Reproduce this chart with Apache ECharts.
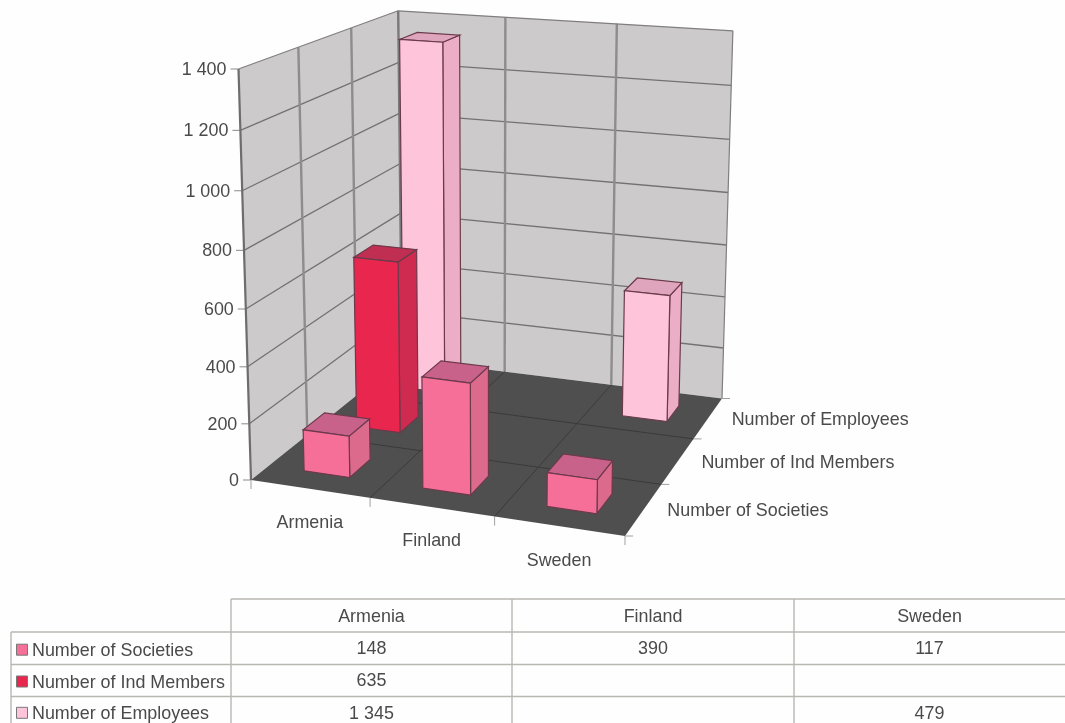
<!DOCTYPE html>
<html><head><meta charset="utf-8">
<style>html,body{margin:0;padding:0;background:#fff}#c{width:1065px;height:723px;filter:blur(0.5px)}</style>
<script src="https://cdn.jsdelivr.net/npm/echarts@6/dist/echarts.min.js"></script></head>
<body><div id="c"></div>
<script>
var categories = ['Armenia','Finland','Sweden'];
var seriesNames = ['Number of Societies','Number of Ind Members','Number of Employees'];
var societies = [148,390,117];
var indMembers = [635,null,null];
var employees = [1345,null,479];
var tableText = [['148','390','117'],['635','',''],['1 345','','479']];
var yTicks = [0,200,400,600,800,1000,1200,1400];
var yTickLabels = ['0','200','400','600','800','1 000','1 200','1 400'];
var yMax = 1400;

var font = 'Liberation Sans, Arial, sans-serif', fs = 17.9, txt = '#4a4a4a';
// perspective frame of the 3D box (screen anchors of its corners)
var O = [251,480], FR = [625,536], BR = [722,398.5], BL = [402,359], FT = [238.5,69], gam = -0.05;
var sx = O[0]-FR[0]+BR[0]-BL[0], sy = O[1]-FR[1]+BR[1]-BL[1];
var dx1 = FR[0]-BR[0], dx2 = BL[0]-BR[0], dy1 = FR[1]-BR[1], dy2 = BL[1]-BR[1];
var det = dx1*dy2-dx2*dy1;
var alp = (sx*dy2-dx2*sy)/det, bet = (dx1*sy-sx*dy1)/det;
function vec(P,k){return [P[0]*(1+k)-O[0],P[1]*(1+k)-O[1]];}
var A = vec(FR,alp), B = vec(BL,bet), C = vec(FT,gam);
function proj(u,d,t){var w=1+alp*u+bet*d+gam*t;
  return [(O[0]+A[0]*u+B[0]*d+C[0]*t)/w,(O[1]+A[1]*u+B[1]*d+C[1]*t)/w];}
function poly(pts,fill,stroke,lw){return {type:'polygon',shape:{points:pts},style:{fill:fill,stroke:stroke||null,lineWidth:lw||0}};}
function line(a,b,c,lw){return {type:'line',shape:{x1:a[0],y1:a[1],x2:b[0],y2:b[1]},style:{stroke:c,lineWidth:lw}};}
function text(s,x,y,align,vert){return {type:'text',style:{text:s,x:x,y:y,fill:txt,font:fs+'px '+font,align:align||'left',verticalAlign:vert||'middle'}};}

function frameItem(params,api){
  var cs=params.coordSys, kids=[], wall='#cdcacb', g='#737172', gv='#8e8c8d';
  function T(v){var p=api.coord([0,v]);return (cs.y+cs.height-p[1])/cs.height;}
  var n=categories.length, m=seriesNames.length;
  kids.push(poly([proj(0,0,0),proj(0,1,0),proj(0,1,1),proj(0,0,1)],wall));
  kids.push(poly([proj(0,1,0),proj(1,1,0),proj(1,1,1),proj(0,1,1)],wall));
  kids.push(poly([proj(0,0,0),proj(1,0,0),proj(1,1,0),proj(0,1,0)],'#4f4f4f'));
  yTicks.forEach(function(v,i){var t=T(v);
    if(i>0&&i<yTicks.length-1){kids.push(line(proj(0,0,t),proj(0,1,t),g,1.3));kids.push(line(proj(0,1,t),proj(1,1,t),g,1.3));}
    var a=proj(0,0,t);kids.push(line(a,[a[0]-8,a[1]],'#8a8a8a',1));
    kids.push(text(yTickLabels[i],a[0]-12,a[1]+1,'right'));
  });
  for(var i=1;i<m;i++){var d=i/m;
    kids.push(line(proj(0,d,0),proj(0,d,1),gv,2.4));
    kids.push(line(proj(0,d,0),proj(1,d,0),'#3a3a3a',1));}
  for(var j=1;j<n;j++){var u=j/n;
    kids.push(line(proj(u,1,0),proj(u,1,1),gv,2.4));
    kids.push(line(proj(u,0,0),proj(u,1,0),'#3a3a3a',1));}
  kids.push(line(proj(0,0,0),proj(0,0,1),'#6e6c6d',2.2));
  kids.push(line(proj(0,0,1),proj(0,1,1),'#807e7f',1.2));
  kids.push(line(proj(0,1,1),proj(1,1,1),'#807e7f',1.2));
  kids.push(line(proj(1,1,0),proj(1,1,1),'#807e7f',1.2));
  kids.push(line(proj(0,1,0),proj(0,1,1),'#7a7879',2.4));
  for(var j=0;j<=n;j++){var p=proj(j/n,0,0);kids.push(line(p,[p[0],p[1]+9],'#a0a0a0',1));}
  for(var i=0;i<=m;i++){var p=proj(1,i/m,0);kids.push(line(p,[p[0]+8,p[1]],'#a0a0a0',1));}
  categories.forEach(function(c,k){var cx=api.coord([k,0]),u=(cx[0]-cs.x)/cs.width,p=proj(u,0,0);
    kids.push(text(c,p[0],p[1]+34.5,'center'));});
  seriesNames.forEach(function(s,k){var p=proj(1,(k+.5)/m,0);kids.push(text(s,p[0]+23.5,p[1]+2,'left'));});
  return {type:'group',children:kids};
}
function barItem(row,cols){return function(params,api){
  var v=api.value(1); if(v==null||isNaN(v)) return null;
  var cs=params.coordSys,p=api.coord([api.value(0),v]),n=categories.length,m=seriesNames.length;
  var uc=(p[0]-cs.x)/cs.width,t=(cs.y+cs.height-p[1])/cs.height,dc=(row+.5)/m;
  var hu=0.39/n/2,hd=0.39/m/2,u0=uc-hu,u1=uc+hu,d0=dc-hd,d1=dc+hd,e='#6b3a4b';
  return {type:'group',children:[
    poly([proj(u1,d0,0),proj(u1,d1,0),proj(u1,d1,t),proj(u1,d0,t)],cols[1],e,1.2),
    poly([proj(u0,d0,t),proj(u1,d0,t),proj(u1,d1,t),proj(u0,d1,t)],cols[2],e,1.2),
    poly([proj(u0,d0,0),proj(u1,d0,0),proj(u1,d0,t),proj(u0,d0,t)],cols[0],e,1.2)
  ]};
};}
var palette=[['#f56f98','#dc6a8d','#c9628a'],['#e9264e','#cf2b50','#c02f52'],['#fec4d9','#ecaec6','#dfa5bd']];
function pairs(a){return a.map(function(v,i){return [i,v];});}

// data table
var tableX=[11,231,512,794,1065], tableY=[599,632,664.5,696.5,723], labelY=[651.2,683,714.3], valueY=[649.2,681.5,714], headerY=617.5, lc='#b8b7b2', gr=[];
function tl(x1,y1,x2,y2){gr.push({type:'line',silent:true,shape:{x1:x1,y1:y1,x2:x2,y2:y2},style:{stroke:lc,lineWidth:1.4}});}
tl(tableX[1],tableY[0],1065,tableY[0]);
tl(tableX[0],tableY[1],1065,tableY[1]);tl(tableX[0],tableY[2],1065,tableY[2]);tl(tableX[0],tableY[3],1065,tableY[3]);
tl(tableX[0],tableY[1],tableX[0],723);tl(tableX[1],tableY[0],tableX[1],723);tl(tableX[2],tableY[0],tableX[2],723);tl(tableX[3],tableY[0],tableX[3],723);
function gt(s,x,y,a){gr.push({type:'text',silent:true,style:{text:s,x:x,y:y,fill:txt,font:fs+'px '+font,align:a,verticalAlign:'middle'}});}
categories.forEach(function(c,k){gt(c,(tableX[k+1]+tableX[k+2])/2,headerY,'center');});
seriesNames.forEach(function(s,r){var y=labelY[r];
  gr.push({type:'rect',silent:true,shape:{x:16.5,y:y-7,width:11,height:11},style:{fill:palette[r][0],stroke:'#777',lineWidth:1}});
  gt(s,32,y,'left');
  tableText[r].forEach(function(t,k){if(t)gt(t,(tableX[k+1]+tableX[k+2])/2,valueY[r],'center');});
});

var chart=echarts.init(document.getElementById('c'),null,{renderer:'canvas'});
chart.setOption({
  animation:false,backgroundColor:'#fefefe',
  grid:{left:0,right:0,top:0,bottom:0},
  xAxis:{type:'category',data:categories,show:false},
  yAxis:{type:'value',min:0,max:yMax,interval:200,show:false},
  graphic:gr,
  series:[
    {type:'custom',name:'frame',data:[[0,0]],renderItem:frameItem,silent:true,clip:false,z:1},
    {type:'custom',name:seriesNames[2],data:pairs(employees),renderItem:barItem(2,palette[2]),clip:false,z:2},
    {type:'custom',name:seriesNames[1],data:pairs(indMembers),renderItem:barItem(1,palette[1]),clip:false,z:3},
    {type:'custom',name:seriesNames[0],data:pairs(societies),renderItem:barItem(0,palette[0]),clip:false,z:4}
  ]
});
</script></body></html>
